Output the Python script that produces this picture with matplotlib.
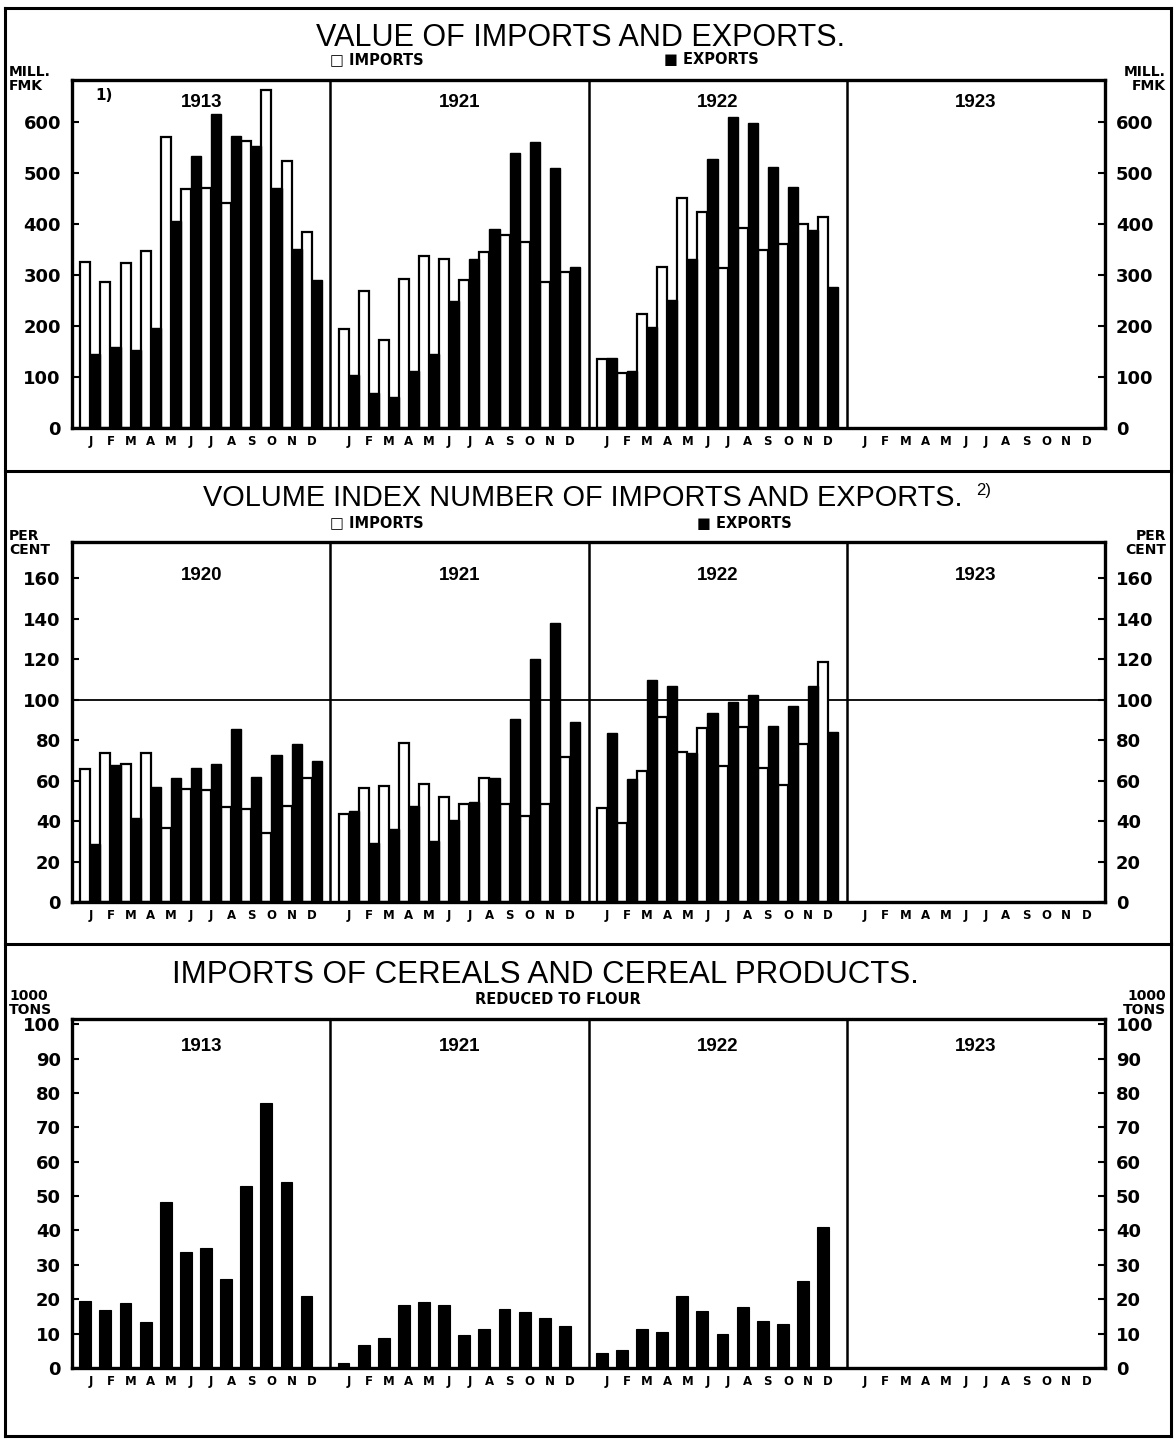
import matplotlib
matplotlib.use("Agg")
import matplotlib.pyplot as plt
from matplotlib.lines import Line2D

# ---- data ----
months = ["J", "F", "M", "A", "M", "J", "J", "A", "S", "O", "N", "D"]

value_years = ["1913", "1921", "1922", "1923"]
value_imports_1913 = [325, 287, 323, 347, 570, 469, 470, 441, 563, 662, 523, 384]
value_exports_1913 = [145, 158, 153, 195, 405, 534, 616, 572, 552, 471, 351, 291]
value_imports_1921 = [194, 269, 172, 292, 338, 331, 290, 344, 379, 365, 286, 305]
value_exports_1921 = [104, 69, 61, 111, 145, 248, 331, 390, 539, 560, 509, 316]
value_imports_1922 = [135, 107, 223, 315, 450, 423, 314, 392, 349, 361, 399, 413]
value_exports_1922 = [138, 111, 197, 251, 331, 528, 610, 598, 511, 473, 388, 277]

volume_years = ["1920", "1921", "1922", "1923"]
volume_imports_1920 = [66, 73.6, 68, 73.6, 36.4, 56, 55.2, 47, 46, 34, 47.6, 61.5]
volume_exports_1920 = [28.6, 67.9, 41.7, 56.8, 61.5, 66.4, 68, 85.7, 62, 72.8, 77.9, 69.7]
volume_imports_1921 = [43.7, 56.5, 57.2, 78.6, 58.2, 51.9, 48.6, 61.3, 48.6, 42.3, 48.3, 71.7]
volume_exports_1921 = [44.8, 29.2, 36.3, 47.3, 30, 40.4, 49.4, 61.3, 90.3, 120.2, 138, 88.9]
volume_imports_1922 = [46.6, 39.2, 65, 91.7, 74.1, 86.2, 67, 86.5, 66.4, 57.7, 77.9, 118.9]
volume_exports_1922 = [83.5, 61, 110, 107, 73.6, 93.4, 98.8, 102.5, 86.8, 96.7, 106.6, 84.3]

cereal_years = ["1913", "1921", "1922", "1923"]
cereal_1913 = [19.5, 17, 18.9, 13.4, 48.3, 33.8, 34.8, 25.9, 53, 77.2, 54.2, 20.8]
cereal_1921 = [1.5, 6.6, 8.7, 18.2, 19.2, 18.4, 9.7, 11.4, 17.3, 16.3, 14.6, 12.2]
cereal_1922 = [4.3, 5.1, 11.4, 10.6, 20.8, 16.5, 9.8, 17.6, 13.7, 12.7, 25.2, 41]

W, H = 1176, 1439
TITLE_FONT = ["Liberation Sans", "DejaVu Sans"]
LABEL_FONT = ["DejaVu Sans"]

# bar geometry in "month" units, each year is 12 units wide
OFFSET = 0.386
PITCH = 0.935
HALF = 0.4675


def fx(px):
    return px / W


def fy(py):
    return 1 - py / H


def make_axes(fig, top_px, bot_px, ymax, yticks, years, year_y):
    ax = fig.add_axes([fx(72), fy(bot_px), (1105 - 72) / W, (bot_px - top_px) / H])
    ax.set_xlim(0, 48)
    ax.set_ylim(0, ymax)
    for s in ax.spines.values():
        s.set_linewidth(2.4)
    for k in (12, 24, 36):
        ax.axvline(k, color="black", lw=1.8)

    ax.set_yticks(yticks)
    ax.set_yticklabels([str(t) for t in yticks])
    ax.tick_params(axis="y", direction="in", length=5, width=1.5, left=True, right=True,
                   labelleft=True, labelright=True, labelsize=13, pad=8)

    centers = [12 * k + OFFSET + i * PITCH + HALF for k in range(4) for i in range(12)]
    ax.set_xticks(centers)
    ax.set_xticklabels(months * 4)
    ax.tick_params(axis="x", length=0, labelsize=8.5, pad=5)
    for lab in ax.get_xticklabels() + ax.get_yticklabels():
        lab.set_fontweight("bold")
        lab.set_family(LABEL_FONT)

    for k, yr in enumerate(years):
        ax.text(12 * k + 6, year_y, yr, transform=ax.get_xaxis_transform(),
                ha="center", va="center", fontsize=13.5, fontweight="bold",
                family=["Liberation Sans", "DejaVu Sans"])
    return ax


def paired_bars(ax, year_index, imports, exports):
    base = 12 * year_index + OFFSET
    lefts = [base + i * PITCH for i in range(12)]
    ax.bar(lefts, imports, width=HALF, align="edge", color="white",
           edgecolor="black", linewidth=1.6, zorder=2)
    ax.bar([x + HALF for x in lefts], exports, width=HALF, align="edge",
           color="black", edgecolor="black", linewidth=1.0, zorder=3)


def single_bars(ax, year_index, values):
    base = 12 * year_index + 0.34
    lefts = [base + i * PITCH for i in range(12)]
    ax.bar(lefts, values, width=0.55, align="edge", color="black",
           edgecolor="black", linewidth=0.8, zorder=3)


def unit_label(fig, text, x_px, y_px, ha):
    fig.text(fx(x_px), fy(y_px), text, ha=ha, va="center", fontsize=10,
             fontweight="bold", family=LABEL_FONT, linespacing=0.95)


def legend_row(fig, y_px, imp_x, exp_x):
    fig.text(fx(imp_x), fy(y_px), "\u25a1 IMPORTS", ha="left", va="center",
             fontsize=10.5, fontweight="bold", family=LABEL_FONT)
    fig.text(fx(exp_x), fy(y_px), "\u25a0 EXPORTS", ha="left", va="center",
             fontsize=10.5, fontweight="bold", family=LABEL_FONT)


fig = plt.figure(figsize=(W / 100, H / 100), dpi=100)
fig.patch.set_facecolor("white")

# frame and separators
for (x0, y0, x1, y1) in [(5, 8, 1171, 8), (5, 1436, 1171, 1436), (5, 8, 5, 1436),
                         (1171, 8, 1171, 1436), (5, 471, 1171, 471), (5, 944, 1171, 944)]:
    fig.add_artist(Line2D([fx(x0), fx(x1)], [fy(y0), fy(y1)], color="black", lw=2.2))

# ---- panel 1: value ----
ax1 = make_axes(fig, 80, 428, 682, list(range(0, 700, 100)), value_years, 0.934)
paired_bars(ax1, 0, value_imports_1913, value_exports_1913)
paired_bars(ax1, 1, value_imports_1921, value_exports_1921)
paired_bars(ax1, 2, value_imports_1922, value_exports_1922)
ax1.text(1.1, 0.955, "1)", transform=ax1.get_xaxis_transform(), ha="left", va="center",
         fontsize=11, fontweight="bold", family=LABEL_FONT)
fig.text(fx(580), fy(38), "VALUE OF IMPORTS AND EXPORTS.", ha="center", va="center",
         fontsize=22, family=TITLE_FONT)
legend_row(fig, 60, 330, 664)
unit_label(fig, "MILL.\nFMK", 9, 79, "left")
unit_label(fig, "MILL.\nFMK", 1166, 79, "right")

# ---- panel 2: volume index ----
ax2 = make_axes(fig, 542, 902, 178, list(range(0, 180, 20)), volume_years, 0.908)
ax2.axhline(100, color="black", lw=1.3, zorder=1)
paired_bars(ax2, 0, volume_imports_1920, volume_exports_1920)
paired_bars(ax2, 1, volume_imports_1921, volume_exports_1921)
paired_bars(ax2, 2, volume_imports_1922, volume_exports_1922)
fig.text(fx(583), fy(498), "VOLUME INDEX NUMBER OF IMPORTS AND EXPORTS.", ha="center",
         va="center", fontsize=20.8, family=TITLE_FONT)
fig.text(fx(976), fy(490), "2)", ha="left", va="center", fontsize=12, family=TITLE_FONT)
legend_row(fig, 523, 330, 697)
unit_label(fig, "PER\nCENT", 9, 543, "left")
unit_label(fig, "PER\nCENT", 1166, 543, "right")

# ---- panel 3: cereals ----
ax3 = make_axes(fig, 1019, 1368, 101.5, list(range(0, 110, 10)), cereal_years, 0.92)
single_bars(ax3, 0, cereal_1913)
single_bars(ax3, 1, cereal_1921)
single_bars(ax3, 2, cereal_1922)
fig.text(fx(545), fy(975), "IMPORTS OF CEREALS AND CEREAL PRODUCTS.", ha="center",
         va="center", fontsize=22.5, family=TITLE_FONT)
fig.text(fx(558), fy(1000), "REDUCED TO FLOUR", ha="center", va="center",
         fontsize=10.5, fontweight="bold", family=LABEL_FONT)
unit_label(fig, "1000\nTONS", 9, 1003, "left")
unit_label(fig, "1000\nTONS", 1166, 1003, "right")

fig.savefig("out.png", dpi=100)
